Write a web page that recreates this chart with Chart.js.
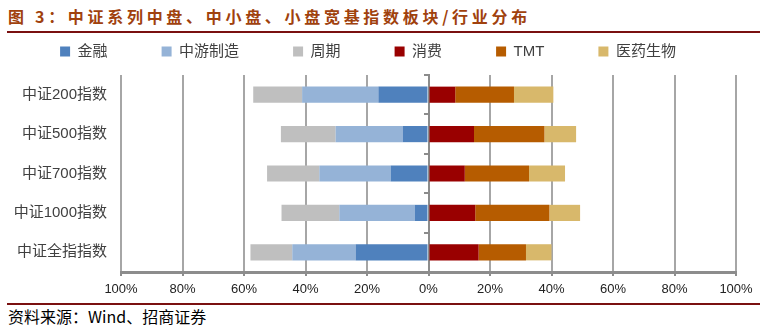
<!DOCTYPE html>
<html><head><meta charset="utf-8">
<script src="https://cdn.jsdelivr.net/npm/chart.js@4"></script>
<style>
html,body{margin:0;padding:0;background:#fff;width:771px;height:329px;overflow:hidden;position:relative;font-family:"Noto Sans CJK SC",sans-serif}
#title{position:absolute;left:8px;top:4px;font-size:16px;font-weight:bold;color:#A0410D;letter-spacing:3.7px;white-space:nowrap;line-height:24px}
#tline{position:absolute;left:7px;top:31px;width:753px;height:2px;background:#7A1010}
#bline{position:absolute;left:7px;top:303px;width:753px;height:2px;background:#7A1010}
#source{position:absolute;left:8px;top:306px;font-size:16px;color:#000;line-height:20px;white-space:nowrap}
#wrap{position:absolute;left:0;top:-10px;width:771px;height:312px}
</style></head><body>
<div id="title">图 3：中证系列中盘、中小盘、小盘宽基指数板块/行业分布</div>
<div id="tline"></div>
<div id="wrap"><canvas id="c" width="771" height="312"></canvas></div>
<div id="bline"></div>
<div id="source">资料来源：Wind、招商证券</div>
<script>
// categories
const categories = ['中证200指数','中证500指数','中证700指数','中证1000指数','中证全指指数'];
// left-side sectors (share %, drawn to the left)
const finance   = [16.3, 8.4, 12.3, 4.5, 23.7];
const midstream = [24.8, 21.8, 23.2, 24.5, 20.6];
const cyclical  = [15.9, 17.8, 17.0, 18.8, 13.6];
// right-side sectors (share %)
const consumer  = [8.7, 14.8, 11.8, 15.2, 16.3];
const tmt       = [19.1, 22.9, 20.9, 24.1, 15.4];
const pharma    = [12.8, 10.3, 11.7, 10.0, 8.3];
// axis ticks
const xTickValues = [-100,-80,-60,-40,-20,0,20,40,60,80,100];

const neg = a => a.map(v => -v);
const datasets = [
  {label:'金融', data:neg(finance), backgroundColor:'#4F81BD'},
  {label:'中游制造', data:neg(midstream), backgroundColor:'#95B3D7'},
  {label:'周期', data:neg(cyclical), backgroundColor:'#BFBFBF'},
  {label:'消费', data:consumer, backgroundColor:'#990000'},
  {label:'TMT', data:tmt, backgroundColor:'#B65C00'},
  {label:'医药生物', data:pharma, backgroundColor:'#D8B86B'}
];
const latinCjk = '"Liberation Sans", Arial, "Noto Sans CJK SC", sans-serif';

new Chart(document.getElementById('c'), {
  type:'bar',
  data:{labels:categories, datasets:datasets},
  options:{
    indexAxis:'y', responsive:false, animation:false, devicePixelRatio:1,
    layout:{padding:{left:0,right:35,top:0,bottom:0}},
    datasets:{bar:{categoryPercentage:1, barPercentage:0.41, borderWidth:0}},
    plugins:{
      legend:{position:'top', align:'center', maxHeight:200,
        labels:{boxWidth:10, boxHeight:10, padding:54, color:'#404040', font:{size:15, family:latinCjk}}},
      tooltip:{enabled:false}
    },
    scales:{
      x:{type:'linear', stacked:true, min:-100, max:100, position:'bottom',
        afterBuildTicks:s=>{ s.ticks = xTickValues.map(v=>({value:v})); },
        ticks:{callback:v=>Math.abs(v)+'%', color:'#222', font:{size:13, family:latinCjk}, padding:6, maxRotation:0, autoSkip:false},
        grid:{color:c=>(c.tick && c.tick.value===0) ? '#8c8c8c' : '#a6a6a6', lineWidth:2, tickLength:4, tickColor:'#8c8c8c', tickWidth:2},
        border:{display:true, color:'#8c8c8c', width:3},
        afterFit:s=>{ s.height = 30; }
      },
      xt:{type:'linear', position:'top', display:true, min:-100, max:100,
        ticks:{display:false}, grid:{display:false}, border:{display:false},
        afterFit:s=>{ s.height = 6; }
      },
      y:{type:'category', stacked:true, position:'left',
        grid:{display:false, drawTicks:false}, border:{display:false},
        ticks:{color:'#404040', padding:14, font:{size:15, family:latinCjk}},
        afterFit:s=>{ s.width = 121; }
      },
      yz:{type:'category', axis:'y', position:{x:0}, offset:true,
        grid:{drawOnChartArea:false, drawTicks:true, tickLength:4, color:'#8c8c8c', lineWidth:2, offset:true},
        border:{display:true, color:'#8c8c8c', width:2},
        ticks:{display:false}
      }
    }
  }
});
</script>
</body></html>
